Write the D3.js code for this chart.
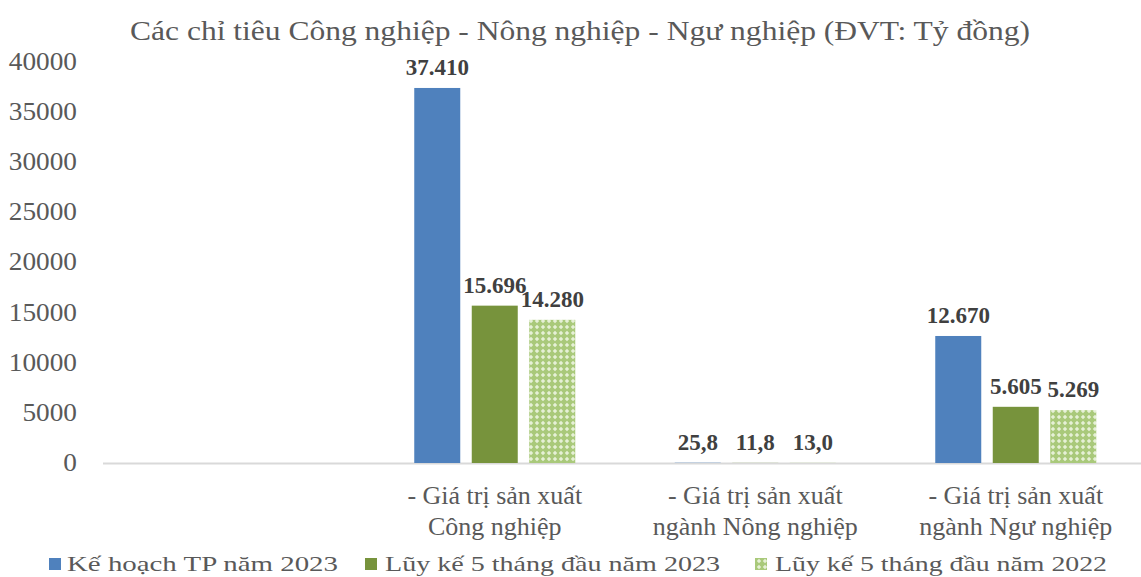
<!DOCTYPE html>
<html><head><meta charset="utf-8">
<script src="https://cdn.jsdelivr.net/npm/d3@7"></script>
<style>body{margin:0;background:#fff}text{font-family:"Liberation Serif","Times New Roman","DejaVu Serif",serif}</style>
</head><body>
<svg id="c" width="1141" height="577"></svg>
<script>
const categories = ["", "- Giá trị sản xuất|Công nghiệp", "- Giá trị sản xuất|ngành Nông nghiệp", "- Giá trị sản xuất|ngành Ngư nghiệp"];
const seriesNames = ["Kế hoạch TP năm 2023", "Lũy kế 5 tháng đầu năm 2023", "Lũy kế 5 tháng đầu năm 2022"];
const plan2023 = [null, 37410, 25.8, 12670];
const cum2023 = [null, 15696, 11.8, 5605];
const cum2022 = [null, 14280, 13.0, 5269];
const labels2023plan = ["", "37.410", "25,8", "12.670"];
const labels2023cum = ["", "15.696", "11,8", "5.605"];
const labels2022cum = ["", "14.280", "13,0", "5.269"];
const yTicks = [0, 5000, 10000, 15000, 20000, 25000, 30000, 35000, 40000];
const title = "Các chỉ tiêu Công nghiệp - Nông nghiệp - Ngư nghiệp (ĐVT: Tỷ đồng)";

const svg = d3.select("#c");
const defs = svg.append("defs");
const pat = defs.append("pattern").attr("id","chk").attr("patternUnits","userSpaceOnUse").attr("width",6).attr("height",6);
pat.append("rect").attr("width",6).attr("height",6).attr("fill","#a9c97a");
pat.append("path").attr("d","M3,0.8 L5.2,3 L3,5.2 L0.8,3Z").attr("fill","#e6f0d6");

const x0 = d3.scaleBand().domain(categories).range([104, 1146]);
const bw = x0.bandwidth();
const x1 = d3.scaleBand().domain(seriesNames).range([(bw-161)/2, (bw+161)/2]).paddingInner(0.2);
const y = d3.scaleLinear().domain([0, 40000]).range([463, 62]);
const fills = ["#4f81bd", "#77933c", "url(#chk)"];
const data = [plan2023, cum2023, cum2022];
const lbls = [labels2023plan, labels2023cum, labels2022cum];

svg.append("text").attr("x", 580).attr("y", 40).attr("text-anchor","middle")
  .attr("font-size", 28).attr("fill","#595959")
  .attr("textLength", 900).attr("lengthAdjust","spacingAndGlyphs").text(title);

// y axis labels
svg.append("g").selectAll("text").data(yTicks).join("text")
  .attr("x", 77).attr("y", d => y(d) + 8).attr("text-anchor","end")
  .attr("font-size", 26).attr("fill","#595959")
  .attr("transform", `translate(77,0) scale(1.05,1) translate(-77,0)`).text(d => d);

// baseline
svg.append("line").attr("x1",103).attr("x2",1141).attr("y1",y(0)+0.5).attr("y2",y(0)+0.5)
  .attr("stroke","#d9d9d9").attr("stroke-width",2);

// bars
data.forEach((vals, si) => {
  const g = svg.append("g");
  const rows = categories.map((c,i)=>({c, v: vals[i], l: lbls[si][i]})).filter(d => d.v !== null);
  g.selectAll("rect").data(rows).join("rect")
    .attr("x", d => x0(d.c) + x1(seriesNames[si]))
    .attr("width", x1.bandwidth())
    .attr("y", d => y(d.v)).attr("height", d => y(0) - y(d.v))
    .attr("fill", fills[si]);
  g.selectAll("text").data(rows).join("text")
    .attr("x", d => x0(d.c) + x1(seriesNames[si]) + x1.bandwidth()/2)
    .attr("y", d => y(d.v) - 13)
    .attr("text-anchor","middle").attr("font-weight","bold").attr("font-size", 23)
    .attr("fill","#404040").text(d => d.l);
});

// category labels
categories.forEach(c => {
  if (!c) return;
  const parts = c.split("|");
  parts.forEach((p, k) => {
    svg.append("text").attr("x", x0(c) + bw/2).attr("y", 504 + k*31)
      .attr("text-anchor","middle").attr("font-size", 26).attr("fill","#595959").text(p);
  });
});

// legend
const leg = [{sx:49, tx:67, tw:271},{sx:365, tx:385, tw:335},{sx:755, tx:775, tw:332}];
leg.forEach((L, i) => {
  svg.append("rect").attr("x", L.sx).attr("y", 558).attr("width", 12).attr("height", 12).attr("fill", fills[i]);
  svg.append("text").attr("x", L.tx).attr("y", 571).attr("font-size", 21).attr("fill","#595959")
    .attr("textLength", L.tw).attr("lengthAdjust","spacingAndGlyphs").text(seriesNames[i]);
});
</script>
</body></html>
